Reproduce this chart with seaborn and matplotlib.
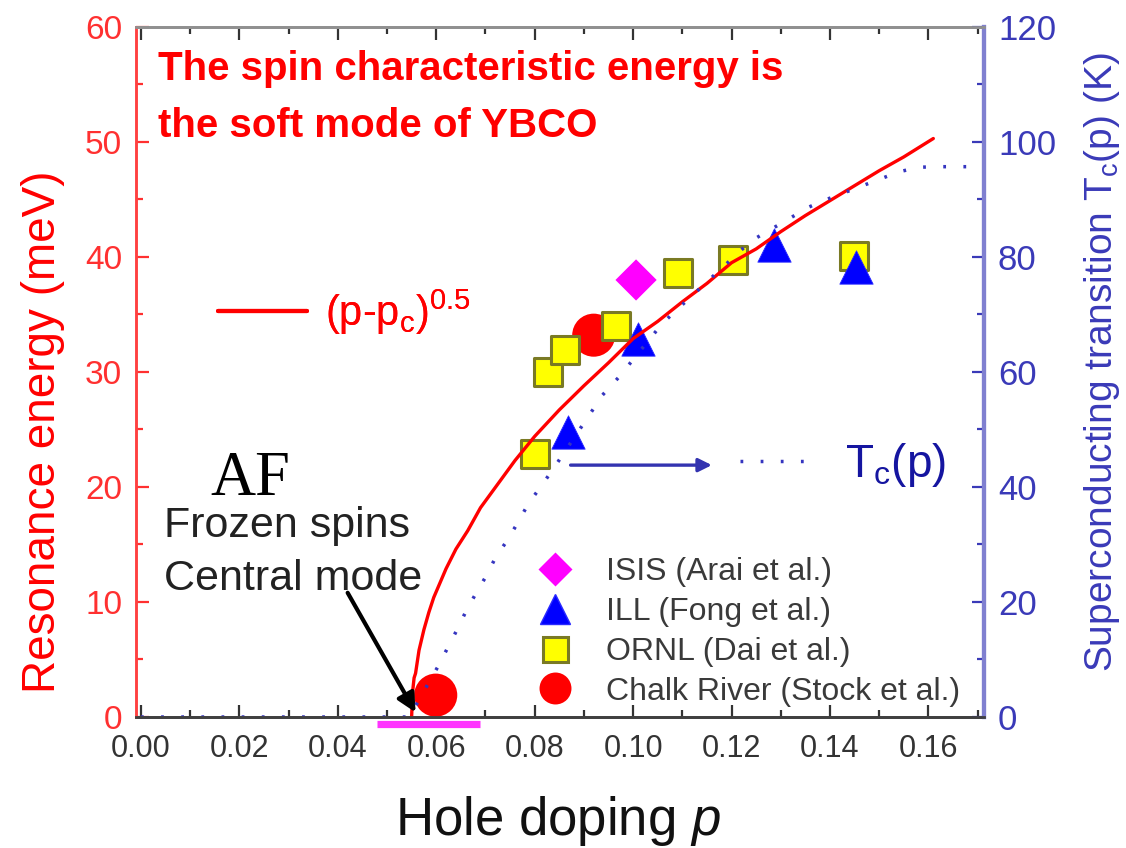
import numpy as np
import pandas as pd
import matplotlib
matplotlib.use("Agg")
import matplotlib.pyplot as plt
import seaborn as sns
from matplotlib.lines import Line2D
from matplotlib.ticker import MultipleLocator

# ---------------- data ----------------
# (p - pc)^0.5 fit curve
p_fit = [0.0550, 0.0552, 0.0555, 0.0558, 0.0565, 0.0575, 0.0585, 0.0595, 0.0605,
         0.0620, 0.0640, 0.0664, 0.0690, 0.0731, 0.0760, 0.0800, 0.0850, 0.0900,
         0.0950, 0.1000, 0.1050, 0.1100, 0.1150, 0.1200, 0.1250, 0.1300, 0.1350,
         0.1400, 0.1450, 0.1500, 0.1550, 0.1610]
e_fit = [0.0, 2.2, 3.4, 3.8, 5.8, 7.6, 9.1, 10.4, 11.4,
         12.9, 14.6, 16.2, 18.2, 20.6, 22.3, 24.4, 26.7, 28.8,
         30.8, 32.9, 34.4, 36.1, 37.7, 39.5, 40.7, 42.2, 43.6,
         44.9, 46.2, 47.5, 48.7, 50.3]

# Tc(p) dotted curve (right axis, K)
p_tc = [0.000, 0.020, 0.040, 0.0545, 0.0603, 0.0623, 0.0640, 0.0660, 0.0680, 0.0700,
        0.0721, 0.0745, 0.0765, 0.0788, 0.0812, 0.0839, 0.0914, 0.0938, 0.0971,
        0.1060, 0.1100, 0.1240, 0.1320, 0.1355, 0.1393, 0.1540, 0.1580, 0.1616,
        0.1650, 0.1710]
tc = [0.0, 0.0, 0.0, 0.0, 8.7, 12.0, 14.8, 18.3, 21.4, 24.3,
      27.8, 30.8, 33.7, 37.2, 40.0, 43.3, 52.9, 56.0, 59.1,
      68.5, 71.7, 82.8, 86.8, 88.6, 90.0, 94.8, 95.6, 95.7,
      95.7, 95.7]

# measurements
isis_p = [0.1006]
isis_e = [38.0]
ill_p = [0.0867, 0.1009, 0.1287, 0.1452]
ill_e = [24.8, 32.9, 41.0, 39.1]
ornl_p = [0.0800, 0.0827, 0.0861, 0.0966, 0.1092, 0.1202, 0.1448]
ornl_e = [22.9, 30.0, 31.9, 34.0, 38.6, 39.7, 40.1]
chalk_p = [0.0599, 0.0920]
chalk_e = [1.9, 33.2]

# AF (frozen spins) range on the doping axis
af_range = [0.048, 0.0688]

legend_labels = ["ISIS (Arai et al.)", "ILL (Fong et al.)",
                 "ORNL (Dai et al.)", "Chalk River (Stock et al.)"]
x_ticks = [0.00, 0.02, 0.04, 0.06, 0.08, 0.10, 0.12, 0.14, 0.16]

# ---------------- style ----------------
sns.set_theme(style="white")
plt.rcParams["font.family"] = ["Liberation Sans", "DejaVu Sans"]
plt.rcParams["mathtext.fontset"] = "custom"
plt.rcParams["mathtext.rm"] = "Liberation Sans"
plt.rcParams["mathtext.it"] = "Liberation Sans:italic"
plt.rcParams["mathtext.bf"] = "Liberation Sans:bold"

RED = "#ff0000"
BLUE_AX = "#3a3ab8"
fig = plt.figure(figsize=(11.26, 8.48), dpi=100)
ax = fig.add_axes([0.1208, 0.1545, 0.7531, 0.8137])
ax2 = ax.twinx()

# main curve
sns.lineplot(x=p_fit, y=e_fit, ax=ax, color=RED, lw=2.4, sort=False,
             estimator=None, zorder=6)

# data points
sns.scatterplot(x=chalk_p, y=chalk_e, ax=ax, marker="o", s=31**2, color=RED,
                edgecolor="none", zorder=3, legend=False)
sns.scatterplot(x=ornl_p, y=ornl_e, ax=ax, marker="s", s=20**2, color="#ffff00",
                edgecolor="#7a7a24", linewidth=2.2, zorder=4, legend=False)
sns.scatterplot(x=ill_p, y=ill_e, ax=ax, marker="^", s=24**2, color="#0000ff",
                edgecolor="#2a2aff", linewidth=0.6, zorder=5, legend=False)
sns.scatterplot(x=isis_p, y=isis_e, ax=ax, marker="D", s=21**2, color="#ff00ff",
                edgecolor="none", zorder=5, legend=False)

# AF bar below the axis
ax.plot(af_range, [-0.6, -0.6], color="#ff33ff", lw=5.2, solid_capstyle="butt",
        clip_on=False, zorder=7)

# Tc(p) on right axis
sns.lineplot(x=p_tc, y=tc, ax=ax2, color="#3535c0", lw=2.5, sort=False,
             estimator=None)
ax2.lines[-1].set_linestyle((0, (0.8, 5.0)))

# axes limits/ticks
ax.set_xlim(-0.001, 0.1713)
ax.set_ylim(0, 60)
ax2.set_ylim(0, 120)
ax.set_xticks(x_ticks)
ax.set_xticklabels([f"{v:.2f}" for v in x_ticks])
ax.xaxis.set_minor_locator(MultipleLocator(0.01))
ax.yaxis.set_major_locator(MultipleLocator(10))
ax.yaxis.set_minor_locator(MultipleLocator(5))
ax2.yaxis.set_major_locator(MultipleLocator(20))
ax2.yaxis.set_minor_locator(MultipleLocator(10))

ax.tick_params(axis="x", which="both", direction="in", top=True, bottom=True,
               colors="#333333", labelsize=22, pad=12, width=1.6)
ax.tick_params(axis="x", which="major", length=9)
ax.tick_params(axis="x", which="minor", length=5)
ax.tick_params(axis="y", which="both", direction="in", left=True, right=False,
               colors="#ff3030", labelsize=24, pad=10, width=1.6)
ax.tick_params(axis="y", which="major", length=9)
ax.tick_params(axis="y", which="minor", length=5)
ax2.tick_params(axis="y", which="both", direction="in", right=True, left=False,
                colors=BLUE_AX, labelsize=25, pad=10, width=1.6)
ax2.tick_params(axis="y", which="major", length=9)
ax2.tick_params(axis="y", which="minor", length=5)

for a in (ax, ax2):
    a.spines["left"].set_color("#ff4040")
    a.spines["left"].set_linewidth(1.8)
    a.spines["bottom"].set_color("#404040")
    a.spines["bottom"].set_linewidth(2.0)
    a.spines["top"].set_color("#909090")
    a.spines["top"].set_linewidth(2.0)
    a.spines["right"].set_color("#8080d0")
    a.spines["right"].set_linewidth(3.0)
ax2.grid(False)
ax.grid(False)

# axis labels
ax.set_xlabel("Hole doping $\\mathit{p}$", fontsize=38, color="#111111")
ax.xaxis.set_label_coords(0.497, -0.112)
ax.set_ylabel("Resonance energy (meV)", fontsize=33, color=RED)
ax.yaxis.set_label_coords(-0.084, 0.413)
ax2.set_ylabel("Superconducting transition T$_\\mathregular{c}$(p) (K)",
               fontsize=28, color=BLUE_AX)
ax2.yaxis.set_label_coords(1.116, 0.514)

# title text
ax.text(0.0035, 55.4, "The spin characteristic energy is", fontsize=29,
        fontweight="bold", color=RED, va="baseline", ha="left")
ax.text(0.0035, 50.4, "the soft mode of YBCO", fontsize=29,
        fontweight="bold", color=RED, va="baseline", ha="left")

# AF annotation
ax.text(0.0142, 19.3, "AF", family="Liberation Serif", fontsize=45,
        color="black", va="baseline", ha="left")
ax.text(0.0047, 15.65, "Frozen spins", fontsize=31, color="#222222",
        va="baseline", ha="left")
ax.text(0.0047, 11.04, "Central mode", fontsize=31, color="#222222",
        va="baseline", ha="left")
ax.annotate("", xy=(0.0558, 0.4), xytext=(0.0420, 10.8),
            arrowprops=dict(arrowstyle="-|>", color="black", lw=3,
                            mutation_scale=28, shrinkA=0, shrinkB=0), zorder=8)

# Tc arrow
ax.annotate("", xy=(0.1160, 21.9), xytext=(0.0873, 21.9),
            arrowprops=dict(arrowstyle="-|>", color="#3333b0", lw=2.4,
                            mutation_scale=20, shrinkA=0, shrinkB=0))

# legend of data points
handles = [
    Line2D([], [], ls="", marker="D", ms=17, color="#ff00ff", mec="none"),
    Line2D([], [], ls="", marker="^", ms=22, color="#0000ff", mec="#2a2aff"),
    Line2D([], [], ls="", marker="s", ms=18, color="#ffff00", mec="#7a7a24", mew=2.2),
    Line2D([], [], ls="", marker="o", ms=23, color=RED, mec="none"),
]
leg = ax.legend(handles, legend_labels, loc="lower left",
                bbox_to_anchor=(0.475, 0.015), frameon=False, fontsize=23,
                labelcolor="#3a3a3a", handlelength=1.0, handletextpad=1.1,
                labelspacing=0.31, borderpad=0, borderaxespad=0)
ax.add_artist(leg)

# fit-curve legend
leg_fit = ax.legend([Line2D([], [], color=RED, lw=3)],
                    ["(p-p$_\\mathregular{c}$)$^\\mathregular{0.5}$"],
                    loc="center left", bbox_to_anchor=(0.0967, 0.587),
                    frameon=False, fontsize=30, labelcolor=RED,
                    handlelength=2.13, handletextpad=0.43, borderpad=0,
                    borderaxespad=0)
ax.add_artist(leg_fit)

# Tc legend
leg_tc = ax2.legend([Line2D([], [], color="#3535c0", lw=2.5, ls=(0, (0.8, 5.0)))],
                    ["T$_\\mathregular{c}$(p)"],
                    loc="center left", bbox_to_anchor=(0.712, 0.365),
                    frameon=False, fontsize=33, labelcolor="#1515a0",
                    handlelength=1.68, handletextpad=0.61, borderpad=0,
                    borderaxespad=0)

fig.savefig("out.png", dpi=100, facecolor="white")
